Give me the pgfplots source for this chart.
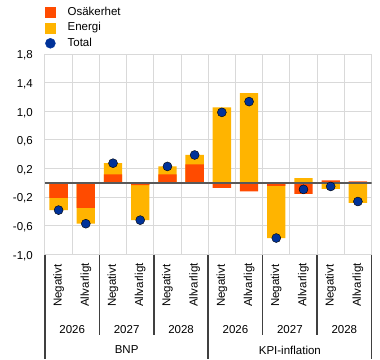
\documentclass[border=0pt]{standalone}
\usepackage{pgfplots}
\pgfplotsset{compat=1.18}
\usepackage{pgfplotstable}
\usepackage{fontspec}
\setmainfont{Liberation Sans}
\definecolor{cOsak}{HTML}{FF4B00}
\definecolor{cEner}{HTML}{FFB400}
\definecolor{cTot}{HTML}{003299}
\definecolor{cZero}{HTML}{595959}
\definecolor{cGrid}{HTML}{D9D9D9}
\definecolor{cSep}{HTML}{404040}

% i = category index; osak = Osäkerhet; energi = Energi; total = Total;
% ext = outer edge of the Energi segment (stacked beyond Osäkerhet when same sign)
\pgfplotstableread{
i  osak    energi  total  ext
0  -0.21   -0.17   -0.38  -0.38
1  -0.35   -0.22   -0.57  -0.57
2   0.12    0.155   0.275  0.275
3  -0.03   -0.49   -0.52  -0.52
4   0.12    0.11    0.23   0.23
5   0.26    0.13    0.39   0.39
6  -0.07    1.055   0.985  1.055
7  -0.12    1.255   1.135  1.255
8  -0.04   -0.73   -0.77  -0.77
9  -0.155   0.065  -0.09   0.065
10  0.035  -0.085  -0.05  -0.085
11  0.02   -0.28   -0.26  -0.28
}\data

\begin{document}
\fontsize{11.5}{13.5}\selectfont
\begin{tikzpicture}
\path[use as bounding box] (-45pt,-104.5pt) rectangle (335pt,254.5pt);
\begin{axis}[
  at={(0pt,0pt)}, anchor=south west,
  scale only axis, width=326.5pt, height=200.5pt,
  xmin=-0.5, xmax=11.5, ymin=-1, ymax=1.8,
  xtick={-0.5,0.5,1.5,2.5,3.5,4.5,5.5,6.5,7.5,8.5,9.5,10.5,11.5},
  xticklabels={},
  ytick={-1,-0.6,-0.2,0.2,0.6,1,1.4,1.8},
  grid=major, major grid style={cGrid, line width=1pt},
  axis line style={draw=none}, major tick length=0pt,
  yticklabel style={inner sep=0pt, xshift=-12pt, yshift=-1.5pt,
    /pgf/number format/fixed, /pgf/number format/fixed zerofill,
    /pgf/number format/precision=1, /pgf/number format/use comma,
    /pgf/number format/assume math mode=true},
  legend style={at={(0,1)}, anchor=south west, draw=none, fill=none,
    inner sep=0pt, yshift=5pt, row sep=4.5pt, column sep=12pt,
    nodes={inner sep=0pt, text height=8.5pt, text depth=2.5pt}},
  legend cell align=left,
]
\addlegendimage{legend image code/.code={\fill[cOsak] (0pt,-5pt) rectangle (10pt,5pt);}}
\addlegendentry{Osäkerhet}
\addlegendimage{legend image code/.code={\fill[cEner] (0pt,-5pt) rectangle (10pt,5pt);}}
\addlegendentry{Energi}
\addlegendimage{legend image code/.code={\fill[cTot] (5pt,0pt) circle (5pt);}}
\addlegendentry{Total}

\addplot[ybar, bar width=18.3pt, bar shift=0pt, fill=cEner, draw=none, forget plot]
  table[x=i, y=ext] {\data};
\addplot[ybar, bar width=18.3pt, bar shift=0pt, fill=cOsak, draw=none, forget plot]
  table[x=i, y=osak] {\data};
\addplot[cZero, line width=2pt, forget plot] coordinates {(-0.5,0) (11.5,0)};
\addplot[only marks, mark=*, mark size=4.5pt, mark options={fill=cTot, draw=none}, forget plot]
  table[x=i, y=total] {\data};
\end{axis}

% category labels
\foreach \k/\yr in {0/2026,1/2027,2/2028,3/2026,4/2027,5/2028} {
  \node[rotate=90, anchor=west, inner sep=0pt] at ({(2*\k+0.5)*27.2083pt},-52.5pt) {Negativt};
  \node[rotate=90, anchor=west, inner sep=0pt] at ({(2*\k+1.5)*27.2083pt},-52.5pt) {Allvarligt};
  \node[inner sep=0pt] at ({(2*\k+1)*27.2083pt},-75.5pt) {\yr};
}
\node[inner sep=0pt] at (81.625pt,-95.5pt) {BNP};
\node[inner sep=0pt] at (244.875pt,-95.5pt) {KPI-inflation};
% separators
\foreach \xx in {54.4167,108.8333,217.6667,272.0833}
  \draw[cSep, line width=1.6pt] (\xx pt,0pt) -- (\xx pt,-80.5pt);
\foreach \xx in {0,163.25,326.5}
  \draw[cSep, line width=1.6pt] (\xx pt,0pt) -- (\xx pt,-104.5pt);
\end{tikzpicture}
\end{document}
